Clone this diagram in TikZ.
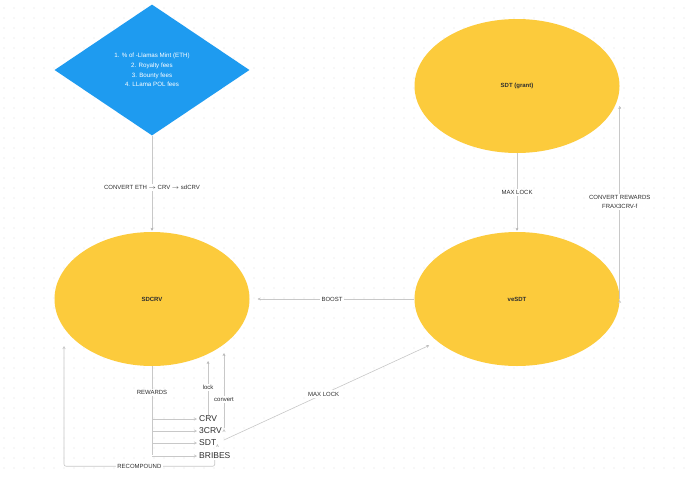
\documentclass[tikz,border=0pt]{standalone}
\usepackage{fontspec}
\setmainfont{Liberation Sans}
\usetikzlibrary{arrows.meta, positioning, shapes.geometric}
\definecolor{poolyellow}{HTML}{FCCB3C}
\definecolor{feeblue}{HTML}{1E9BF0}
\definecolor{wire}{HTML}{C8C8C8}
\definecolor{ink}{HTML}{2E2E2E}
\definecolor{griddot}{HTML}{DDDDDD}
\tikzset{shorten >= 1pt,
         node distance = 3cm, on grid,
         >= {Stealth[length = 3pt, width = 3pt]},
         pool/.style = {ellipse, fill = poolyellow, text = ink,
                        minimum width = 195pt, minimum height = 134pt,
                        font = \fontsize{6}{7}\selectfont\bfseries},
         source/.style = {diamond, fill = feeblue, text = white, align = center,
                          minimum width = 195pt, minimum height = 131pt, inner sep = 0pt,
                          font = \fontsize{6.2}{9.8}\selectfont},
         token/.style = {anchor = west, text = ink, inner sep = 1pt,
                         font = \fontsize{8.5}{10}\selectfont},
         tag/.style = {fill = white, text = ink, inner sep = 1.5pt, align = center,
                       font = \fontsize{6}{9}\selectfont},
         flow/.style = {draw = wire, line width = 0.6pt}}

\begin{document}
\begin{tikzpicture}[x = 1pt, y = -1pt]
        \fill[white] (0,0) rectangle (690,477);
        \useasboundingbox (0,0) rectangle (690,477);
        \foreach \gx in {0,...,68}
            \foreach \gy in {0,...,46}
                \fill[griddot] (4+\gx*10, 8+\gy*10) circle (0.55pt);

        \node[source]                           (fees)     at (152,70)               {1. \% of -Llamas Mint (ETH)\\2. Royalty fees\\3. Bounty fees\\4. LLama POL fees};
        \node[pool]                             (sdcrv)    [below = 229pt of fees]   {SDCRV};
        \node[pool, minimum width = 205pt]      (vesdt)    [right = 365pt of sdcrv]  {veSDT};
        \node[pool, minimum width = 205pt]      (sdtgrant) [above = 213pt of vesdt]  {SDT (grant)};

        \node[token] (crv)      at (198,419) {CRV};
        \node[token] (threecrv) at (198,431) {3CRV};
        \node[token] (sdt)      at (198,443) {SDT};
        \node[token] (bribes)   at (198,456) {BRIBES};

        \coordinate (locktop)  at (209,360);
        \coordinate (cvbase)   at (224,428);
        \coordinate (cvtop)    at (224,352);
        \coordinate (mlend)    at (430,345);
        \coordinate (rctop)    at (64,345);
        \coordinate (crtop)    at (vesdt.east |- 0,105);

        \path[flow, ->]          (fees) edge               node[tag, pos = 0.54] {CONVERT ETH $\rightarrow$ CRV $\rightarrow$ sdCRV} (sdcrv);
        \path[flow, ->]          (sdtgrant) edge           node[tag] {MAX LOCK} (vesdt);
        \path[flow, ->]          (vesdt.east) edge         node[tag] {CONVERT REWARDS\\FRAX3CRV-f} (crtop);
        \path[flow, ->]          (vesdt) edge[shorten >= 8pt] node[tag] {BOOST} (sdcrv);

        \draw[flow]              (sdcrv.south) -- node[tag, pos = 0.29] {REWARDS} (sdcrv.south |- bribes.west);
        \foreach \t in {crv, threecrv, sdt, bribes}
            \draw[flow, ->]      (sdcrv.south |- \t.west) -- (\t.west);

        \path[flow, ->]          (crv.north) edge          node[tag] {lock} (crv.north |- locktop);
        \path[flow, ->]          (cvbase) edge             node[tag, pos = 0.37] {convert} (cvtop);
        \path[flow, ->]          (sdt.east) edge[shorten <= 7pt] node[tag] {MAX LOCK} (mlend);
        \draw[flow, ->, rounded corners = 2pt] (bribes.south) -- ++(0,6) -| node[tag, pos = 0.25] {RECOMPOUND} (rctop);
    \end{tikzpicture}
\end{document}
